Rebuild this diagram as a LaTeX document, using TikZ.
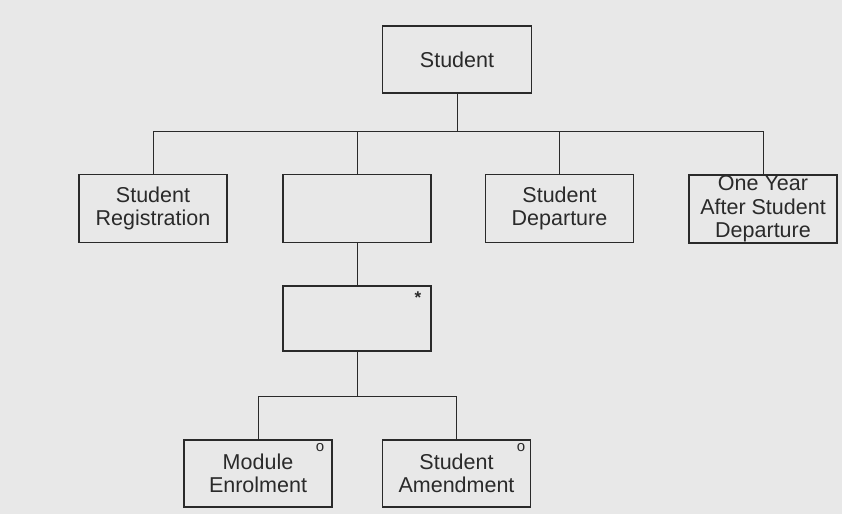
\documentclass[tikz,border=0pt]{standalone}
\usepackage{fontspec}
\setmainfont{Liberation Sans}
\definecolor{paper}{HTML}{E8E8E8}
\definecolor{ink}{HTML}{2A2A2A}
\begin{document}
\begin{tikzpicture}[x=1pt,y=-1pt,
  box/.style={draw=ink, line width=1.3pt, rectangle, minimum width=148pt, minimum height=68pt,
              align=center, inner sep=0pt, text=ink,
              font=\fontsize{21.5}{23.5}\selectfont},
  link/.style={draw=ink, line width=1pt},
  tag/.style={text=ink, inner sep=0pt, font=\fontsize{15}{15}\selectfont}]
\fill[paper] (0,0) rectangle (842,514);
\useasboundingbox (0,0) rectangle (842,514);

\node[box, minimum width=149pt, minimum height=67pt] (student) at (457,59.5) {Student};

\node[box] (reg)  at (153,208.5) {Student\\Registration};
\node[box] (blank) at (357,208.5) {};
\node[box] (dep)  at (559.5,208.5) {Student\\Departure};
\node[box] (year) at (763,209) {One Year\\After Student\\Departure};

\node[box, minimum height=65pt] (iter) at (357,318.5) {};
\node[tag, font=\fontsize{17}{17}\selectfont\bfseries] (star) at (418,298) {*};

\node[box, minimum height=67pt] (mod) at (258,473.5) {Module\\Enrolment};
\node[box, minimum height=67pt] (amend) at (456.5,473.5) {Student\\Amendment};
\node[tag] (o1) at (320,448) {o};
\node[tag] (o2) at (521,448) {o};

\coordinate (j1) at (457,131);
\coordinate (j2) at (357,396);

\draw[link] (student.south) -- (j1);
\draw[link] (j1) -| (reg.north);
\draw[link] (j1) -| (blank.north);
\draw[link] (j1) -| (dep.north);
\draw[link] (j1) -| (year.north);

\draw[link] (blank.south) -- (iter.north);
\draw[link] (iter.south) -- (j2);
\draw[link] (j2) -| (mod.north);
\draw[link] (j2) -| (amend.north);
\end{tikzpicture}
\end{document}
